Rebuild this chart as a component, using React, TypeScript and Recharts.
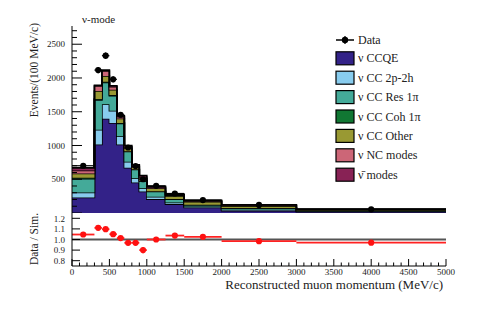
import React from 'react';
import { ComposedChart, Area, Scatter, ErrorBar, XAxis, YAxis, ReferenceLine } from 'recharts';

// bin edges (MeV/c), last bin is 3000-5000
const binEdges = [0, 300, 400, 500, 600, 700, 800, 900, 1000, 1250, 1500, 2000, 3000, 5000];

// simulated components, events / 100 MeV/c
const ccqe = [230, 1014, 1397, 1333, 1014, 671, 451, 319, 206, 132, 83, 34, 20];
const cc2p2h = [74, 221, 215, 181, 123, 89, 63, 49, 34, 25, 15, 15, 6];
const ccRes = [205, 440, 320, 225, 190, 150, 130, 105, 78, 48, 24, 24, 10];
const ccCoh = [15, 15, 13, 10, 8, 6, 5, 4, 4, 3, 2, 2, 1];
const ccOther = [62, 118, 85, 78, 65, 43, 30, 35, 45, 45, 45, 28, 12];
const ncModes = [45, 73, 74, 45, 25, 22, 16, 22, 15, 12, 9, 9, 4];
const antiNu = [38, 12, 12, 14, 14, 18, 20, 20, 15, 13, 10, 10, 4];

// data points
const dataEvents = [700, 2117, 2330, 1980, 1455, 970, 696, 500, 402, 289, 191, 120, 55];
const dataErr = [15, 46, 48, 44, 38, 31, 26, 22, 13, 11, 6, 3.5, 1.7];

// ratio panel
const ratio = [1.047, 1.11, 1.097, 1.05, 1.013, 0.969, 0.969, 0.9, 1.0, 1.037, 1.025, 0.984, 0.97];
const ratioErr = [0.015, 0.015, 0.015, 0.015, 0.018, 0.02, 0.022, 0.03, 0.02, 0.022, 0.02, 0.02, 0.02];

const mainLabelTicks = [500, 1000, 1500, 2000, 2500];
const ratioTicks = [0.8, 0.9, 1.0, 1.1, 1.2];
const xLabelTicks = [0, 500, 1000, 1500, 2000, 2500, 3000, 3500, 4000, 4500, 5000];

const components = [
  { key: 'ccqe', name: 'ν CCQE', color: '#332288', values: ccqe },
  { key: 'cc2p2h', name: 'ν CC 2p-2h', color: '#88CCEE', values: cc2p2h },
  { key: 'ccRes', name: 'ν CC Res 1π', color: '#44AA99', values: ccRes },
  { key: 'ccCoh', name: 'ν CC Coh 1π', color: '#117733', values: ccCoh },
  { key: 'ccOther', name: 'ν CC Other', color: '#999933', values: ccOther },
  { key: 'nc', name: 'ν NC modes', color: '#CC6677', values: ncModes },
  { key: 'anti', name: 'ν\u0304 modes', color: '#882255', values: antiNu },
];

const W = 483;
const H = 327;
const PL = 72; // plot left
const PR = 446; // plot right
const TOP = 26;
const SPLIT = 213; // upper/lower pad boundary
const RH = 53; // ratio plot height
const Y_MAX = 2770;
const FONT = '"Liberation Serif", "Times New Roman", serif';

const nBins = binEdges.length - 1;
const stackRows = binEdges.map((x, i) => {
  const row: any = { x };
  const b = Math.min(i, nBins - 1);
  components.forEach(c => { row[c.key] = c.values[b]; });
  return row;
});

const centers = binEdges.slice(0, -1).map((e, i) => (e + binEdges[i + 1]) / 2);
const halfW = binEdges.slice(0, -1).map((e, i) => (binEdges[i + 1] - e) / 2);
const dataPts = centers.map((x, i) => ({ x, y: dataEvents[i], ex: halfW[i], ey: dataErr[i] }));
const ratioPts = centers.map((x, i) => ({ x, y: ratio[i], ex: halfW[i], ey: ratioErr[i] }));

const mainMinor: number[] = [];
for (let v = 0; v <= 2700; v += 100) mainMinor.push(v);
const xMinor: number[] = [];
for (let v = 0; v <= 5000; v += 100) xMinor.push(v);

const LeftTick = ({ y, payload }: any) => {
  const v = payload.value;
  const major = v % 500 === 0;
  return (
    <g>
      <line x1={PL} x2={PL + (major ? 10 : 5)} y1={y} y2={y} stroke="#000" strokeWidth={1} />
      {mainLabelTicks.includes(v) && (
        <text x={PL - 7} y={y + 3.2} textAnchor="end" fontSize={9} fontFamily={FONT} fill="#222">{v}</text>
      )}
    </g>
  );
};

const RightTick = ({ y, payload }: any) => {
  const major = payload.value % 500 === 0;
  return <line x1={PR} x2={PR - (major ? 10 : 5)} y1={y} y2={y} stroke="#000" strokeWidth={1} />;
};

const RatioLeftTick = ({ y, payload }: any) => (
  <g>
    <line x1={PL} x2={PL + 8} y1={y} y2={y} stroke="#000" strokeWidth={1} />
    <text x={PL - 7} y={y + 3.2} textAnchor="end" fontSize={9} fontFamily={FONT} fill="#222">
      {payload.value.toFixed(1)}
    </text>
  </g>
);

const RatioRightTick = ({ y }: any) => (
  <line x1={PR} x2={PR - 8} y1={y} y2={y} stroke="#000" strokeWidth={1} />
);

const BottomTick = ({ x, payload }: any) => {
  const v = payload.value;
  const major = v % 500 === 0;
  return (
    <g>
      <line x1={x} x2={x} y1={RH} y2={RH - (major ? 7 : 3.5)} stroke="#000" strokeWidth={1} />
      {major && xLabelTicks.includes(v) && (
        <text x={x} y={RH + 8.5} textAnchor="middle" fontSize={9} fontFamily={FONT} fill="#222">{v}</text>
      )}
    </g>
  );
};

const TopTick = ({ x, payload }: any) => {
  const major = payload.value % 500 === 0;
  return <line x1={x} x2={x} y1={0} y2={major ? 5 : 2.5} stroke="#000" strokeWidth={1} />;
};

const Dot = ({ cx, cy, color }: any) => <circle cx={cx} cy={cy} r={3.1} fill={color} />;

export default function App() {
  const legendRows = components.map((c, i) => ({ ...c, cy: 58.3 + i * 19.4 }));
  return (
    <div style={{ position: 'absolute', left: 0, top: 0, width: W, height: H, background: '#fff' }}>
      <div style={{ position: 'absolute', left: 0, top: 0 }}>
        <ComposedChart width={W} height={SPLIT} data={stackRows}
          margin={{ top: TOP, right: W - PR, bottom: 0, left: 0 }}>
          <XAxis dataKey="x" type="number" domain={[0, 5000]} hide height={0} allowDataOverflow />
          <XAxis xAxisId="t" orientation="top" type="number" domain={[0, 5000]} height={0}
            tick={false} tickLine={false} axisLine={{ stroke: '#666', strokeWidth: 2 }} />
          <YAxis yAxisId="l" type="number" domain={[0, Y_MAX]} width={PL} ticks={mainMinor} interval={0}
            tickLine={false} tickSize={0} tickMargin={0} tick={<LeftTick />} allowDataOverflow
            axisLine={{ stroke: '#000', strokeWidth: 1 }} />
          <YAxis yAxisId="r" orientation="right" type="number" domain={[0, Y_MAX]} width={0} ticks={mainMinor}
            interval={0} tickLine={false} tick={<RightTick />} allowDataOverflow
            axisLine={{ stroke: '#000', strokeWidth: 1 }} />
          {components.map(c => (
            <Area key={c.key} yAxisId="l" type="stepAfter" dataKey={c.key} stackId="mc" name={c.name}
              stroke="#000" strokeWidth={1.6} fill={c.color} fillOpacity={1}
              dot={false} activeDot={false} isAnimationActive={false} />
          ))}
          <Scatter yAxisId="l" data={dataPts} dataKey="y" name="Data" fill="#000"
            shape={<Dot color="#000" />} isAnimationActive={false}>
            <ErrorBar dataKey="ex" direction="x" width={0} stroke="#000" strokeWidth={1.2} />
            <ErrorBar dataKey="ey" direction="y" width={0} stroke="#000" strokeWidth={1.2} />
          </Scatter>
        </ComposedChart>
      </div>

      <div style={{ position: 'absolute', left: 0, top: SPLIT, background: '#fff' }}>
        <ComposedChart width={W} height={H - SPLIT}
          margin={{ top: 0, right: W - PR, bottom: 0, left: 0 }}>
          <XAxis dataKey="x" type="number" domain={[0, 5000]} height={H - SPLIT - RH} ticks={xMinor}
            interval={0} tickLine={false} tickSize={0} tickMargin={0} tick={<BottomTick />}
            axisLine={{ stroke: '#000', strokeWidth: 1 }} allowDataOverflow />
          <XAxis xAxisId="t" orientation="top" type="number" domain={[0, 5000]} height={0} ticks={xMinor}
            interval={0} tickLine={false} tick={<TopTick />} axisLine={false} />
          <YAxis type="number" domain={[0.75, 1.25]} width={PL} ticks={ratioTicks} interval={0}
            tickLine={false} tick={<RatioLeftTick />} allowDataOverflow
            axisLine={{ stroke: '#000', strokeWidth: 1 }} />
          <YAxis yAxisId="r" orientation="right" type="number" domain={[0.75, 1.25]} width={0}
            ticks={ratioTicks} interval={0} tickLine={false} tick={<RatioRightTick />}
            axisLine={{ stroke: '#000', strokeWidth: 1 }} />
          <ReferenceLine y={1} stroke="#555" strokeWidth={2} />
          <Scatter data={ratioPts} dataKey="y" name="Data / Sim." fill="#f00"
            shape={<Dot color="#f11" />} isAnimationActive={false}>
            <ErrorBar dataKey="ex" direction="x" width={0} stroke="#f22" strokeWidth={1.8} />
            <ErrorBar dataKey="ey" direction="y" width={0} stroke="#f22" strokeWidth={1.5} />
          </Scatter>
        </ComposedChart>
      </div>

      <svg width={W} height={H} style={{ position: 'absolute', left: 0, top: 0, pointerEvents: 'none' }}
        fontFamily={FONT}>
        <text x={82} y={23} fontSize={11} fill="#222">ν-mode</text>
        <text x={38} y={23} fontSize={11.5} textAnchor="end" transform="rotate(-90 38 23)" fill="#222">
          Events/(100 MeV/c)
        </text>
        <text x={38} y={239} fontSize={11.5} textAnchor="middle" transform="rotate(-90 38 239)" fill="#222">
          Data / Sim.
        </text>
        <text x={443} y={289} fontSize={13} textAnchor="end" fill="#222">
          Reconstructed muon momentum (MeV/c)
        </text>

        {/* legend */}
        <line x1={336} x2={354} y1={40} y2={40} stroke="#000" strokeWidth={1.5} />
        <line x1={345} x2={345} y1={36} y2={44} stroke="#000" strokeWidth={1.2} />
        <circle cx={345} cy={40} r={3.2} fill="#000" />
        <text x={358} y={44} fontSize={12} fill="#222">Data</text>
        {legendRows.map(r => (
          <g key={r.key}>
            <rect x={336} y={r.cy - 6.5} width={18} height={13} fill={r.color} stroke="#000" strokeWidth={1.2} />
            <text x={358} y={r.cy + 4} fontSize={12} fill="#222">{r.name}</text>
          </g>
        ))}
      </svg>
    </div>
  );
}
